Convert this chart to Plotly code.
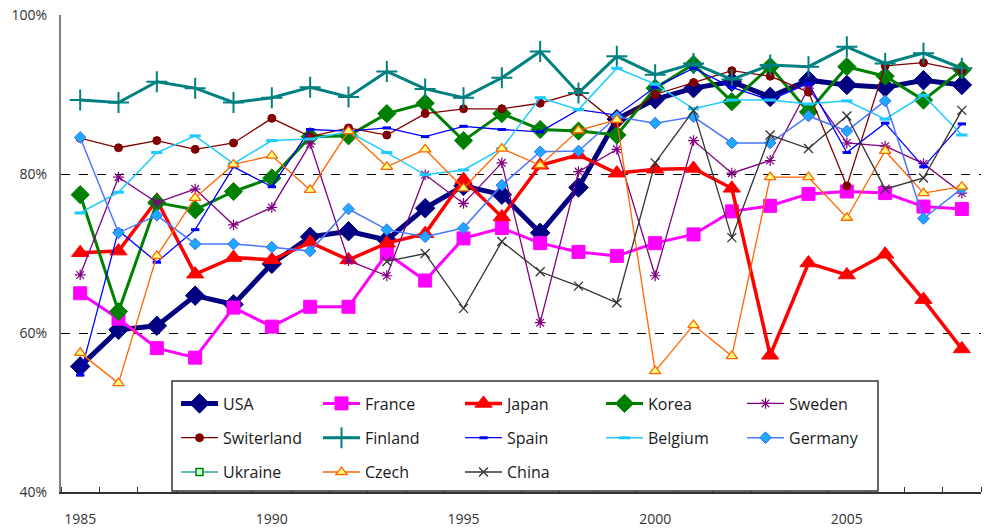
import plotly.graph_objects as go

years = list(range(1985, 2009))

usa = [55.8, 60.4, 60.9, 64.7, 63.6, 68.7, 72.1, 72.8, 71.7, 75.7, 78.5, 77.4,
       72.6, 78.3, 86.9, 89.4, 90.8, 91.6, 89.7, 91.8, 91.2, 90.9, 91.8, 91.2]
france = [65.0, 61.8, 58.1, 56.9, 63.2, 60.8, 63.3, 63.3, 70.0, 66.6, 71.9, 73.2,
          71.3, 70.2, 69.7, 71.3, 72.4, 75.3, 76.0, 77.5, 77.8, 77.6, 75.9, 75.6]
japan = [70.1, 70.3, 76.7, 67.4, 69.5, 69.2, 71.4, 69.2, 71.3, 72.5, 79.3, 74.6,
         81.1, 82.4, 80.1, 80.6, 80.7, 78.2, 57.2, 68.8, 67.3, 69.9, 64.2, 58.0]
korea = [77.4, 62.7, 76.4, 75.5, 77.8, 79.5, 84.7, 84.8, 87.6, 88.9, 84.2, 87.6,
         85.6, 85.4, 84.9, 90.8, 93.8, 89.1, 93.5, 87.8, 93.5, 92.3, 89.3, 93.1]
sweden = [67.3, 79.6, 76.4, 78.1, 73.6, 75.8, 83.8, 69.1, 67.2, 79.9, 76.3, 81.4,
          61.3, 80.3, 83.1, 67.2, 84.2, 80.1, 81.7, 90.8, 83.9, 83.5, 81.3, 77.6]
switzerland = [84.5, 83.3, 84.2, 83.1, 83.9, 87.0, 84.7, 85.8, 84.9, 87.6, 88.2, 88.2,
               88.9, 90.3, 86.4, 90.0, 91.5, 93.0, 92.3, 90.3, 78.5, 93.6, 94.0, 93.0]
finland = [89.3, 89.0, 91.6, 90.8, 89.0, 89.6, 90.9, 89.7, 92.9, 90.7, 89.6, 92.1,
           95.4, 90.2, 94.8, 92.5, 93.9, 91.9, 93.7, 93.5, 96.0, 93.9, 95.2, 93.3]
spain = [54.7, 72.9, 68.9, 73.0, 80.9, 78.4, 85.6, 85.4, 85.8, 84.7, 86.0, 85.6,
         85.3, 88.1, 87.4, 90.9, 93.3, 90.9, 89.3, 91.4, 82.7, 86.4, 80.9, 86.3]
belgium = [75.1, 77.7, 82.7, 84.8, 81.3, 84.2, 84.4, 85.3, 82.7, 79.9, 80.5, 83.2,
           89.6, 88.1, 93.3, 91.3, 88.2, 89.3, 89.3, 88.8, 89.2, 86.9, 89.9, 84.9]
germany = [84.6, 72.6, 74.8, 71.2, 71.2, 70.8, 70.3, 75.6, 73.0, 72.1, 73.2, 78.6,
           82.8, 82.9, 87.2, 86.4, 87.2, 83.9, 83.9, 87.3, 85.4, 89.2, 74.4, 78.2]
ukraine = [None] * 24
czech = [57.5, 53.7, 69.7, 77.0, 81.2, 82.3, 78.0, 85.4, 80.9, 83.1, 78.2, 83.2,
         81.1, 85.5, 86.8, 55.2, 61.0, 57.1, 79.6, 79.6, 74.5, 82.9, 77.6, 78.4]
china = [None] * 8 + [69.0, 70.0, 63.1, 71.5, 67.7, 65.9, 63.8, 81.4, 88.0, 72.0,
                      84.9, 83.2, 87.3, 78.1, 79.5, 88.0]

x_labels = [1985, 1990, 1995, 2000, 2005]
y_ticks = [40, 60, 80, 100]
y_tick_text = ["40%", "60%", "80%", "100%"]

W, H = 987, 530
ML, MR, MT, MB = 61, 6, 15, 38
PW, PH = W - ML - MR, H - MT - MB


def px_x(p):
    return (p - ML) / PW


def px_y(p):
    return (H - MB - p) / PH


# (name, values, line color, line width, symbol, size, fill, outline color, outline width, legend column)
series = [
    ("USA", usa, "#000080", 5, "diamond", 15, "#000080", "#000080", 1, 1),
    ("France", france, "#FF00FF", 3, "square", 13, "#FF00FF", "#FF00FF", 1, 2),
    ("Japan", japan, "#FF0000", 3.5, "triangle-up", 15, "#FF0000", "#FF0000", 1, 3),
    ("Korea", korea, "#008000", 3, "diamond", 14, "#008000", "#008000", 1, 4),
    ("Sweden", sweden, "#800080", 1.3, "asterisk-open", 9, "#800080", "#800080", 1.2, 5),
    ("Switerland", switzerland, "#800000", 1.3, "circle", 8, "#800000", "#800000", 1, 1),
    ("Finland", finland, "#008080", 3, "cross-thin-open", 15, "#008080", "#008080", 2, 2),
    ("Spain", spain, "#0000FF", 1.3, "line-ew-open", 6, "#0000FF", "#0000FF", 3, 3),
    ("Belgium", belgium, "#1ECBFF", 1.5, "line-ew-open", 8, "#1ECBFF", "#1ECBFF", 3, 4),
    ("Germany", germany, "#4A78FF", 1.5, "diamond", 9, "#1EA8FF", "#3C6CFF", 1, 5),
    ("Ukraine", ukraine, "#33AAAA", 1.3, "square", 7, "#CCFFCC", "#008000", 1.5, 1),
    ("Czech", czech, "#FF6600", 1.3, "triangle-up", 10, "#FFFF80", "#FF6600", 1.3, 2),
    ("China", china, "#333333", 1.3, "x-thin-open", 9, "#333333", "#333333", 1.3, 3),
]

fig = go.Figure()
for name, vals, lc, lw, sym, sz, fc, oc, ow, col in series:
    fig.add_trace(go.Scatter(
        x=years, y=vals, name=name, mode="lines+markers",
        line=dict(color=lc, width=lw),
        marker=dict(symbol=sym, size=sz, color=fc, line=dict(color=oc, width=ow)),
        legend="legend" if col == 1 else f"legend{col}",
        legendgroup=name,
        connectgaps=False,
    ))

col_left_px = [176, 318, 460, 601, 742]
leg_top_px = 386.5
legend_common = dict(
    orientation="v", xanchor="left", yanchor="top",
    bgcolor="rgba(0,0,0,0)", borderwidth=0,
    font=dict(family="Open Sans", size=16, color="#1a1a1a"),
    itemwidth=37, tracegroupgap=10.5, itemclick=False, itemdoubleclick=False,
)
layout_legends = {}
for i, lx in enumerate(col_left_px):
    key = "legend" if i == 0 else f"legend{i + 1}"
    layout_legends[key] = dict(x=px_x(lx), y=px_y(leg_top_px), **legend_common)

fig.update_layout(
    width=W, height=H,
    margin=dict(l=ML, r=MR, t=MT, b=MB, autoexpand=False),
    paper_bgcolor="white", plot_bgcolor="white",
    font=dict(family="Open Sans", size=14, color="#333333"),
    showlegend=True,
    **layout_legends,
    shapes=[dict(
        type="rect", xref="paper", yref="paper", layer="above",
        x0=px_x(172), x1=px_x(878), y0=px_y(491), y1=px_y(381),
        line=dict(color="#333333", width=1.5), fillcolor="white",
    )],
)

fig.update_xaxes(
    range=[1984.5, 2008.5], tickmode="array", tickvals=x_labels,
    ticktext=[str(v) for v in x_labels],
    ticks="outside", ticklen=13, tickcolor="rgba(0,0,0,0)", automargin=False,
    showgrid=False, zeroline=False, showline=True, linecolor="#333333", linewidth=1.5,
    minor=dict(ticks="inside", ticklen=5, tickcolor="#333333", tickwidth=1,
               tickmode="linear", tick0=1984.5, dtick=1, showgrid=False),
    tickfont=dict(family="Open Sans", size=14, color="#333333"),
)
fig.update_yaxes(
    range=[40, 100], tickmode="array", tickvals=y_ticks, ticktext=y_tick_text,
    ticks="outside", ticklen=9, tickcolor="rgba(0,0,0,0)", automargin=False,
    showgrid=True, gridcolor="#000000", gridwidth=1, griddash="dash",
    zeroline=False, showline=True, linecolor="#808080", linewidth=2,
    tickfont=dict(family="Open Sans", size=14, color="#333333"),
)

fig.write_html(
    "out.html",
    config={"displayModeBar": False},
    post_script="document.body.style.margin='0';document.body.style.overflow='hidden';",
)
